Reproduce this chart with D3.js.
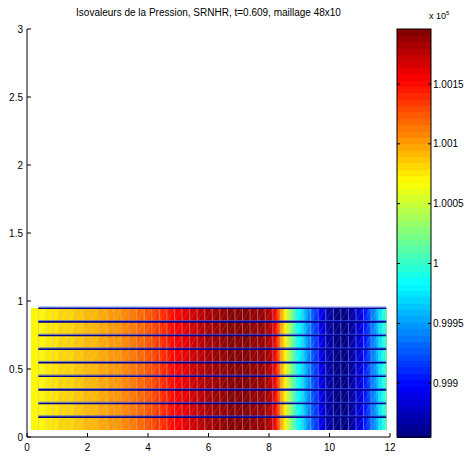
<!DOCTYPE html>
<html><head><meta charset="utf-8">
<script src="https://cdn.jsdelivr.net/npm/d3@7"></script>
<style>body{margin:0;background:#fff;overflow:hidden} text{font-family:"Liberation Sans",Arial,Helvetica,sans-serif;fill:#000}</style>
</head><body><svg id="c" width="464" height="456"></svg>
<script>
// ---------- data ----------
const title = "Isovaleurs de la Pression, SRNHR, t=0.609, maillage 48x10";
// cell centres of the 48x10 mesh
const xCenters = [0.125,0.375,0.625,0.875,1.125,1.375,1.625,1.875,2.125,2.375,2.625,2.875,
  3.125,3.375,3.625,3.875,4.125,4.375,4.625,4.875,5.125,5.375,5.625,5.875,
  6.125,6.375,6.625,6.875,7.125,7.375,7.625,7.875,8.125,8.375,8.625,8.875,
  9.125,9.375,9.625,9.875,10.125,10.375,10.625,10.875,11.125,11.375,11.625,11.875];
const yCenters = [0.05,0.15,0.25,0.35,0.45,0.55,0.65,0.75,0.85,0.95];
// pressure (Pa) per column (constant along y)
const pressure = [100068,100070,100073,100077,100080,100082,100085,100089,100092,100095,100099,100102,
  100106,100111,100116,100121,100128,100135,100143,100152,100159,100165,100172,100179,
  100184,100188,100191,100196,100194,100191,100189,100186,100172,100107,100053,99998,
  99967,99937,99906,99875,99862,99855,99862,99877,99899,99930,99967,100008];
const xTicks = [0,2,4,6,8,10,12];
const yTicks = [0,0.5,1,1.5,2,2.5,3];
const cbTicks = [0.999,0.9995,1,1.0005,1.001,1.0015]; // x 10^5

// ---------- layout ----------
const svg = d3.select("#c");
const x = d3.scaleLinear().domain([0,12]).range([27,390]);
const y = d3.scaleLinear().domain([0,3]).range([437,29]);
const ext = d3.extent(pressure);
const nC = 64;
function jet(t){
  const c = v => Math.max(0,Math.min(1,v));
  const r = c(1.5-Math.abs(4*t-3)), g = c(1.5-Math.abs(4*t-2)), b = c(1.5-Math.abs(4*t-1));
  return d3.rgb(r*255,g*255,b*255).toString();
}
const jetMap = d3.range(nC).map(k => jet((k+0.5)/nC));
const idx = d3.scaleQuantize().domain(ext).range(d3.range(nC));
const colorOf = v => jetMap[idx(Math.max(ext[0],Math.min(ext[1],v)))];

// ---------- field (interpolated shading) ----------
const field = svg.append("g");
const sub = 10;
const strips = [];
for (let i=0;i<xCenters.length-1;i++){
  for (let s=0;s<sub;s++){
    const f0 = s/sub, f1=(s+1)/sub, fm=(s+0.5)/sub;
    strips.push({x0:xCenters[i]+(xCenters[i+1]-xCenters[i])*f0,
                 x1:xCenters[i]+(xCenters[i+1]-xCenters[i])*f1,
                 v:pressure[i]+(pressure[i+1]-pressure[i])*fm});
  }
}
const yTop = yCenters[yCenters.length-1], yBot = yCenters[0];
field.selectAll("rect").data(strips).join("rect")
  .attr("x", d=>x(d.x0)).attr("width", d=>x(d.x1)-x(d.x0)+0.4)
  .attr("y", y(yTop)).attr("height", y(yBot)-y(yTop))
  .attr("fill", d=>colorOf(d.v)).attr("shape-rendering","crispEdges");

// ---------- mesh ----------
const mesh = svg.append("g");
const xs = xCenters.slice(1);
// diagonals
const diag = [];
for (let i=0;i<xs.length-1;i++) for (let j=0;j<yCenters.length-1;j++)
  diag.push([xs[i],yCenters[j],xs[i+1],yCenters[j+1]]);
mesh.selectAll("line.d").data(diag).join("line").attr("class","d")
  .attr("x1",d=>x(d[0])).attr("y1",d=>y(d[1])).attr("x2",d=>x(d[2])).attr("y2",d=>y(d[3]))
  .attr("stroke","#ffffff").attr("stroke-opacity",0.2).attr("stroke-width",0.7);
// vertical lines
mesh.selectAll("line.v").data(xs).join("line").attr("class","v")
  .attr("x1",d=>x(d)).attr("x2",d=>x(d)).attr("y1",y(yTop)).attr("y2",y(yBot))
  .attr("stroke","#c0c0cc").attr("stroke-opacity",0.5).attr("stroke-width",1);
// horizontal lines
const hs = yCenters.slice(1);
mesh.selectAll("line.h").data(hs).join("line").attr("class","h")
  .attr("x1",x(xs[0])).attr("x2",x(xs[xs.length-1])).attr("y1",d=>y(d)+0.5).attr("y2",d=>y(d)+0.5)
  .attr("stroke","#00008f").attr("stroke-width",1.6);
mesh.selectAll("line.h2").data(hs).join("line").attr("class","h2")
  .attr("x1",x(xs[0])).attr("x2",x(xs[xs.length-1])).attr("y1",d=>y(d)-0.8).attr("y2",d=>y(d)-0.8)
  .attr("stroke","#3a5cf0").attr("stroke-width",1).attr("stroke-opacity",0.7);

// ---------- axes ----------
const ax = svg.append("g").attr("stroke","#000");
ax.append("line").attr("x1",x(0)).attr("x2",x(0)).attr("y1",y(0)).attr("y2",y(3)).attr("stroke-width",1);
ax.append("line").attr("x1",x(0)).attr("x2",x(12)).attr("y1",y(0)).attr("y2",y(0)).attr("stroke-width",1);
ax.selectAll("line.yt").data(yTicks).join("line").attr("class","yt")
  .attr("x1",x(0)).attr("x2",x(0)+4).attr("y1",d=>y(d)).attr("y2",d=>y(d));
ax.selectAll("line.xt").data(xTicks).join("line").attr("class","xt")
  .attr("x1",d=>x(d)).attr("x2",d=>x(d)).attr("y1",y(0)).attr("y2",y(0)-4);
svg.selectAll("text.yl").data(yTicks).join("text").attr("class","yl")
  .attr("x",x(0)-4).attr("y",d=>y(d)+3.5).attr("text-anchor","end").attr("font-size",10).text(d=>d);
svg.selectAll("text.xl").data(xTicks).join("text").attr("class","xl")
  .attr("x",d=>x(d)).attr("y",y(0)+14).attr("text-anchor","middle").attr("font-size",10).text(d=>d);
svg.append("text").attr("x",(x(0)+x(12))/2).attr("y",16).attr("text-anchor","middle")
  .attr("font-size",10).text(title);

// ---------- colorbar ----------
const cbX = 397, cbW = 34;
const cy = d3.scaleLinear().domain(ext.map(v=>v/1e5)).range([437,29]);
const cb = svg.append("g");
const step = (ext[1]-ext[0])/nC;
cb.selectAll("rect").data(jetMap).join("rect")
  .attr("x",cbX).attr("width",cbW)
  .attr("y",(d,k)=>cy((ext[0]+(k+1)*step)/1e5)).attr("height",(d,k)=>cy((ext[0]+k*step)/1e5)-cy((ext[0]+(k+1)*step)/1e5)+0.5)
  .attr("fill",d=>d).attr("shape-rendering","crispEdges");
cb.append("rect").attr("x",cbX).attr("y",cy(ext[1]/1e5)).attr("width",cbW).attr("height",cy(ext[0]/1e5)-cy(ext[1]/1e5))
  .attr("fill","none").attr("stroke","#000").attr("stroke-width",1);
cb.selectAll("line.l").data(cbTicks).join("line").attr("class","l")
  .attr("x1",cbX).attr("x2",cbX+3).attr("y1",d=>cy(d)).attr("y2",d=>cy(d)).attr("stroke","#000");
cb.selectAll("line.r").data(cbTicks).join("line").attr("class","r")
  .attr("x1",cbX+cbW-3).attr("x2",cbX+cbW).attr("y1",d=>cy(d)).attr("y2",d=>cy(d)).attr("stroke","#000");
svg.selectAll("text.cl").data(cbTicks).join("text").attr("class","cl")
  .attr("x",cbX+cbW+2).attr("y",d=>cy(d)+3.5).attr("font-size",10).text(d=>d);
const ex = svg.append("text").attr("x",cbX+cbW-2).attr("y",19).attr("font-size",9);
ex.append("tspan").text("x 10");
ex.append("tspan").attr("dy",-4).attr("font-size",6).text("5");
</script></body></html>
